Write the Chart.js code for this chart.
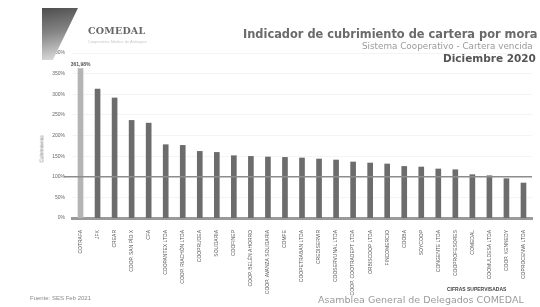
<!DOCTYPE html>
<html>
<head>
<meta charset="utf-8">
<script src="https://cdn.jsdelivr.net/npm/chart.js@4.4.0/dist/chart.umd.min.js"></script>
<style>
  body { margin: 0; background: #fff; font-family: "Liberation Sans", Arial, sans-serif; }
  #wrap { position: relative; width: 540px; height: 307px; overflow: hidden; background: #fff; }
  #chart { position: absolute; left: 0; top: 0; }
  .logo-wedge { position: absolute; left: 42px; top: 8px; width: 36px; height: 52px;
    background: linear-gradient(170deg, #4e4e4e 0%, #858585 45%, #e6e6e6 100%);
    clip-path: polygon(0 0, 100% 0, 30% 100%, 0 100%); }
  .logo-text { position: absolute; left: 88px; top: 25px; font: bold 9.5px "DejaVu Serif", serif; color: #666; letter-spacing: 0.2px; }
  .logo-sub { position: absolute; left: 88px; top: 39px; font: 4px "Liberation Sans", sans-serif; color: #c8c8c8; }
  .title { position: absolute; left: 243px; top: 27px; font: bold 11.4px "DejaVu Sans", sans-serif; color: #6a6a6a; white-space: nowrap; }
  .subtitle { position: absolute; left: 362px; top: 41px; font: 8.8px "DejaVu Sans", sans-serif; color: #9a9a9a; white-space: nowrap; }
  .date { position: absolute; left: 443px; top: 52px; font: bold 10.5px "DejaVu Sans", sans-serif; color: #555; white-space: nowrap; }
  .ytitle { position: absolute; left: 28px; top: 146px; font: 5px "Liberation Sans", sans-serif; color: #777; transform: rotate(-90deg); transform-origin: center; white-space: nowrap; }
  .source { position: absolute; left: 30px; top: 295px; font: 6px "Liberation Sans", sans-serif; color: #8a8a8a; white-space: nowrap; }
  .footer { position: absolute; left: 318px; top: 294px; font: 9.5px "DejaVu Sans", sans-serif; color: #9a9a9a; white-space: nowrap; }
  .note { position: absolute; left: 447px; top: 286px; font: bold 5px "Liberation Sans", sans-serif; color: #444; white-space: nowrap; }
</style>
</head>
<body>
<div id="wrap">
  <canvas id="chart" width="540" height="307"></canvas>
  <div class="logo-wedge"></div>
  <div class="logo-text">COMEDAL</div>
  <div class="logo-sub">Cooperativa Médica de Antioquia</div>
  <div class="title">Indicador de cubrimiento de cartera por mora</div>
  <div class="subtitle">Sistema Cooperativo - Cartera vencida</div>
  <div class="date">Diciembre 2020</div>
  <div class="ytitle">Cubrimiento</div>
  <div class="note">CIFRAS SUPERVISADAS</div>
  <div class="source">Fuente: SES Feb 2021</div>
  <div class="footer">Asamblea General de Delegados COMEDAL</div>
</div>
<script>
// entidades (eje x)
const entidades = [
  "COTRAFA", "JFK", "CREAR", "COOP. SAN PÍO X", "CFA", "COOPANTEX LTDA",
  "COOP. RIACHÓN LTDA", "COOPRUDEA", "SOLIDARIA", "COOFINEP",
  "COOP. BELÉN AHORRO", "COOP. AVANZA SOLIDARIA", "COMFE", "COOPETRABAN LTDA",
  "CREDISERVIR", "COOSERVUNAL LTDA", "COOP. COOTRADEPT LTDA", "ORBISCOOP LTDA",
  "FINCOMERCIO", "COOBA", "SOYCOOP", "CONGENTE LTDA", "COOPROFESORES",
  "COMEDAL", "COOMULDESA LTDA", "COOP. KENNEDY", "COPROCENVA LTDA"
];

// cubrimiento en %
const cubrimiento = [
  361.98, 312.7, 291.0, 236.6, 230.0, 177.7, 176.0, 161.5, 159.0, 151.0,
  149.3, 147.9, 146.9, 145.5, 143.0, 140.6, 135.8, 133.3, 130.9, 125.0,
  123.6, 118.8, 117.0, 105.0, 102.5, 95.3, 84.8
];

const ticksY = [0, 50, 100, 150, 200, 250, 300, 350, 400];
const meta = 100;

const barColors = cubrimiento.map((v, i) => i === 0 ? "#b4b4b4" : "#6c6c6c");

// linea de referencia y etiqueta del primer valor
const extras = {
  id: "extras",
  afterDatasetsDraw(chart) {
    const ctx = chart.ctx;
    const ys = chart.scales.y;
    const xs = chart.scales.x;
    const area = chart.chartArea;
    const y = ys.getPixelForValue(meta);
    ctx.save();
    ctx.strokeStyle = "#8c8c8c";
    ctx.lineWidth = 1.5;
    ctx.beginPath();
    ctx.moveTo(area.left - 8, y);
    ctx.lineTo(area.right, y);
    ctx.stroke();

    const bx = xs.getPixelForValue(0);
    const by = ys.getPixelForValue(cubrimiento[0]);
    ctx.font = "bold 5px 'Liberation Sans', sans-serif";
    ctx.fillStyle = "#555";
    ctx.textAlign = "center";
    ctx.textBaseline = "bottom";
    ctx.fillText(cubrimiento[0].toFixed(2).replace(".", ",") + "%", bx, by - 2);
    ctx.restore();
  }
};

new Chart(document.getElementById("chart"), {
  type: "bar",
  data: {
    labels: entidades,
    datasets: [{
      data: cubrimiento,
      backgroundColor: barColors,
      borderWidth: 0,
      barThickness: 5
    }]
  },
  options: {
    responsive: false,
    animation: false,
    layout: { padding: { top: 53, right: 8, left: 0, bottom: 0 } },
    plugins: { legend: { display: false }, tooltip: { enabled: false } },
    scales: {
      x: {
        afterFit: (s) => { s.height = 89; },
        grid: { display: false },
        border: { color: "#9a9a9a", width: 3 },
        ticks: {
          autoSkip: false,
          maxRotation: 90,
          minRotation: 90,
          padding: 4,
          color: "#555",
          font: { size: 5, family: "'Liberation Sans', sans-serif" }
        }
      },
      y: {
        min: 0,
        max: 400,
        afterFit: (s) => { s.width = 72; },
        afterBuildTicks: (s) => { s.ticks = ticksY.map(v => ({ value: v })); },
        border: { display: false },
        grid: { color: "#ececec", lineWidth: 0.6, drawTicks: false },
        ticks: {
          padding: 7,
          color: "#666",
          font: { size: 5, family: "'Liberation Sans', sans-serif" },
          callback: (v) => v + "%"
        }
      }
    }
  },
  plugins: [extras]
});
</script>
</body>
</html>
